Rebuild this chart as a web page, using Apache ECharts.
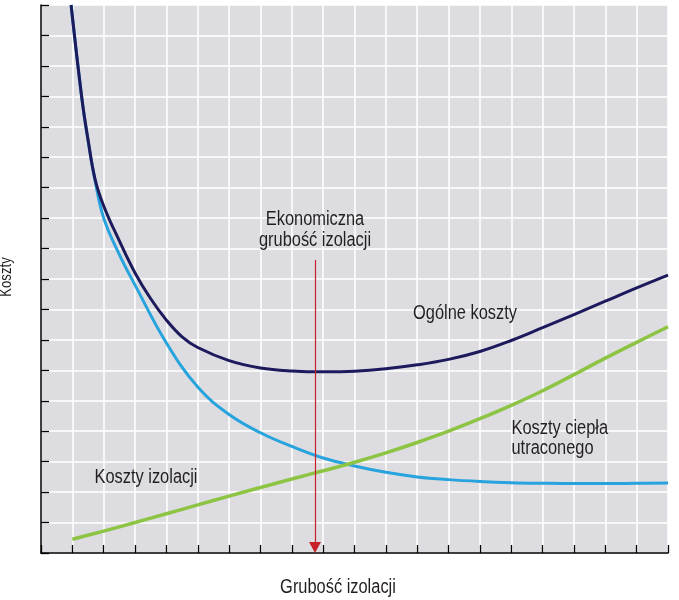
<!DOCTYPE html>
<html><head><meta charset="utf-8">
<script src="https://cdn.jsdelivr.net/npm/echarts@6/dist/echarts.min.js"></script>
<style>html,body{margin:0;padding:0;background:#fff}#c{width:679px;height:600px}</style>
</head><body><div id="c"></div><script>
// Costs of lost heat (decreasing curve)
const heatLossX = [0.96, 1.31, 1.5, 1.72, 2, 2.5, 3, 4, 5, 6, 7, 8, 9, 10, 11, 12, 13, 14, 15, 16, 17, 18, 19, 20];
const heatLossY = [18.0, 14.88, 13.55, 12.25, 11.0, 9.8, 8.8, 6.9, 5.45, 4.55, 3.95, 3.5, 3.12, 2.86, 2.65, 2.5, 2.41, 2.35, 2.31, 2.29, 2.28, 2.28, 2.29, 2.3];
// Total costs
const totalX = [0.96, 1.31, 1.5, 1.72, 2, 2.5, 3, 3.5, 4, 4.5, 5, 6, 7, 8, 9, 10, 11, 12, 13, 14, 15, 16, 17, 18, 19, 20];
const totalY = [18.0, 14.88, 13.58, 12.3, 11.4, 10.25, 9.2, 8.35, 7.65, 7.1, 6.75, 6.32, 6.08, 5.98, 5.95, 5.97, 6.05, 6.18, 6.36, 6.62, 6.98, 7.4, 7.83, 8.27, 8.71, 9.13];
// Insulation costs (increasing curve)
const insulX = [1, 2, 3, 4, 5, 6, 7, 8, 9, 10, 11, 12, 13, 14, 15, 16, 17, 18, 19, 20];
const insulY = [0.45, 0.72, 1.0, 1.29, 1.58, 1.87, 2.15, 2.43, 2.7, 2.98, 3.29, 3.63, 4.0, 4.41, 4.85, 5.33, 5.86, 6.4, 6.92, 7.43];
// Economic thickness marker
const optimumX = 8.74;
const optimumTop = 9.62;
const arrowEnd = 0.18;

const xMin = 0, xMax = 20, yMin = 0, yMax = 18;

const FONT = '"Liberation Sans", Arial, sans-serif';
const TXT = '#231f20';
const NARROW = 0.82;

const pairs = (xs, ys) => xs.map((v, i) => [v, ys[i]]);

const chart = echarts.init(document.getElementById('c'), null, {renderer: 'canvas'});

const axisCommon = {
  type: 'value',
  interval: 1,
  axisLine: {show: true, onZero: false, lineStyle: {color: '#000', width: 1.5}},
  axisTick: {show: true, inside: true, length: 8, lineStyle: {color: '#000', width: 1.3}},
  axisLabel: {show: false},
  splitLine: {show: true, lineStyle: {color: '#ffffff', width: 1.5}}
};

function txt(text, x, y, align, size, rot) {
  const o = {
    type: 'text', x: x, y: y, silent: true, z: 100,
    scaleX: NARROW, scaleY: 1,
    style: {text: text, font: size + 'px ' + FONT, fill: TXT, align: align, verticalAlign: 'middle'}
  };
  if (rot) o.rotation = rot;
  return o;
}

chart.setOption({
  animation: false,
  backgroundColor: '#ffffff',
  grid: {left: 41, right: 11, top: 5, bottom: 47, show: true, backgroundColor: '#dddde1', borderWidth: 0},
  xAxis: Object.assign({}, axisCommon, {min: xMin, max: xMax}),
  yAxis: Object.assign({}, axisCommon, {min: yMin, max: yMax}),
  series: [
    {
      name: 'Koszty ciepła utraconego', type: 'line', smooth: 0.4, symbol: 'none',
      lineStyle: {color: '#27a3dd', width: 3}, data: pairs(heatLossX, heatLossY), z: 3
    },
    {
      name: 'Koszty izolacji', type: 'line', smooth: 0.4, symbol: 'none',
      lineStyle: {color: '#8dc443', width: 3.5}, data: pairs(insulX, insulY), z: 3
    },
    {
      name: 'Ogólne koszty', type: 'line', smooth: 0.4, symbol: 'none',
      lineStyle: {color: '#1c1a5c', width: 3}, data: pairs(totalX, totalY), z: 4,
      markLine: {
        silent: true, animation: false,
        symbol: ['none', 'triangle'], symbolSize: [12, 11],
        label: {show: false},
        lineStyle: {color: '#c8202a', width: 1.2, type: 'solid'},
        data: [[{coord: [optimumX, optimumTop]}, {coord: [optimumX, arrowEnd]}]]
      }
    }
  ],
  graphic: [
    txt('Ekonomiczna', 315, 219.5, 'center', 20),
    txt('grubość izolacji', 315, 240.5, 'center', 20),
    txt('Ogólne koszty', 413, 313.5, 'left', 20),
    txt('Koszty ciepła', 511.5, 428.5, 'left', 20),
    txt('utraconego', 511.5, 448.5, 'left', 20),
    txt('Koszty izolacji', 94.5, 477.8, 'left', 20),
    txt('Grubość izolacji', 338, 587.5, 'center', 20),
    txt('Koszty', 7, 277, 'center', 16, Math.PI / 2)
  ]
});
</script></body></html>
